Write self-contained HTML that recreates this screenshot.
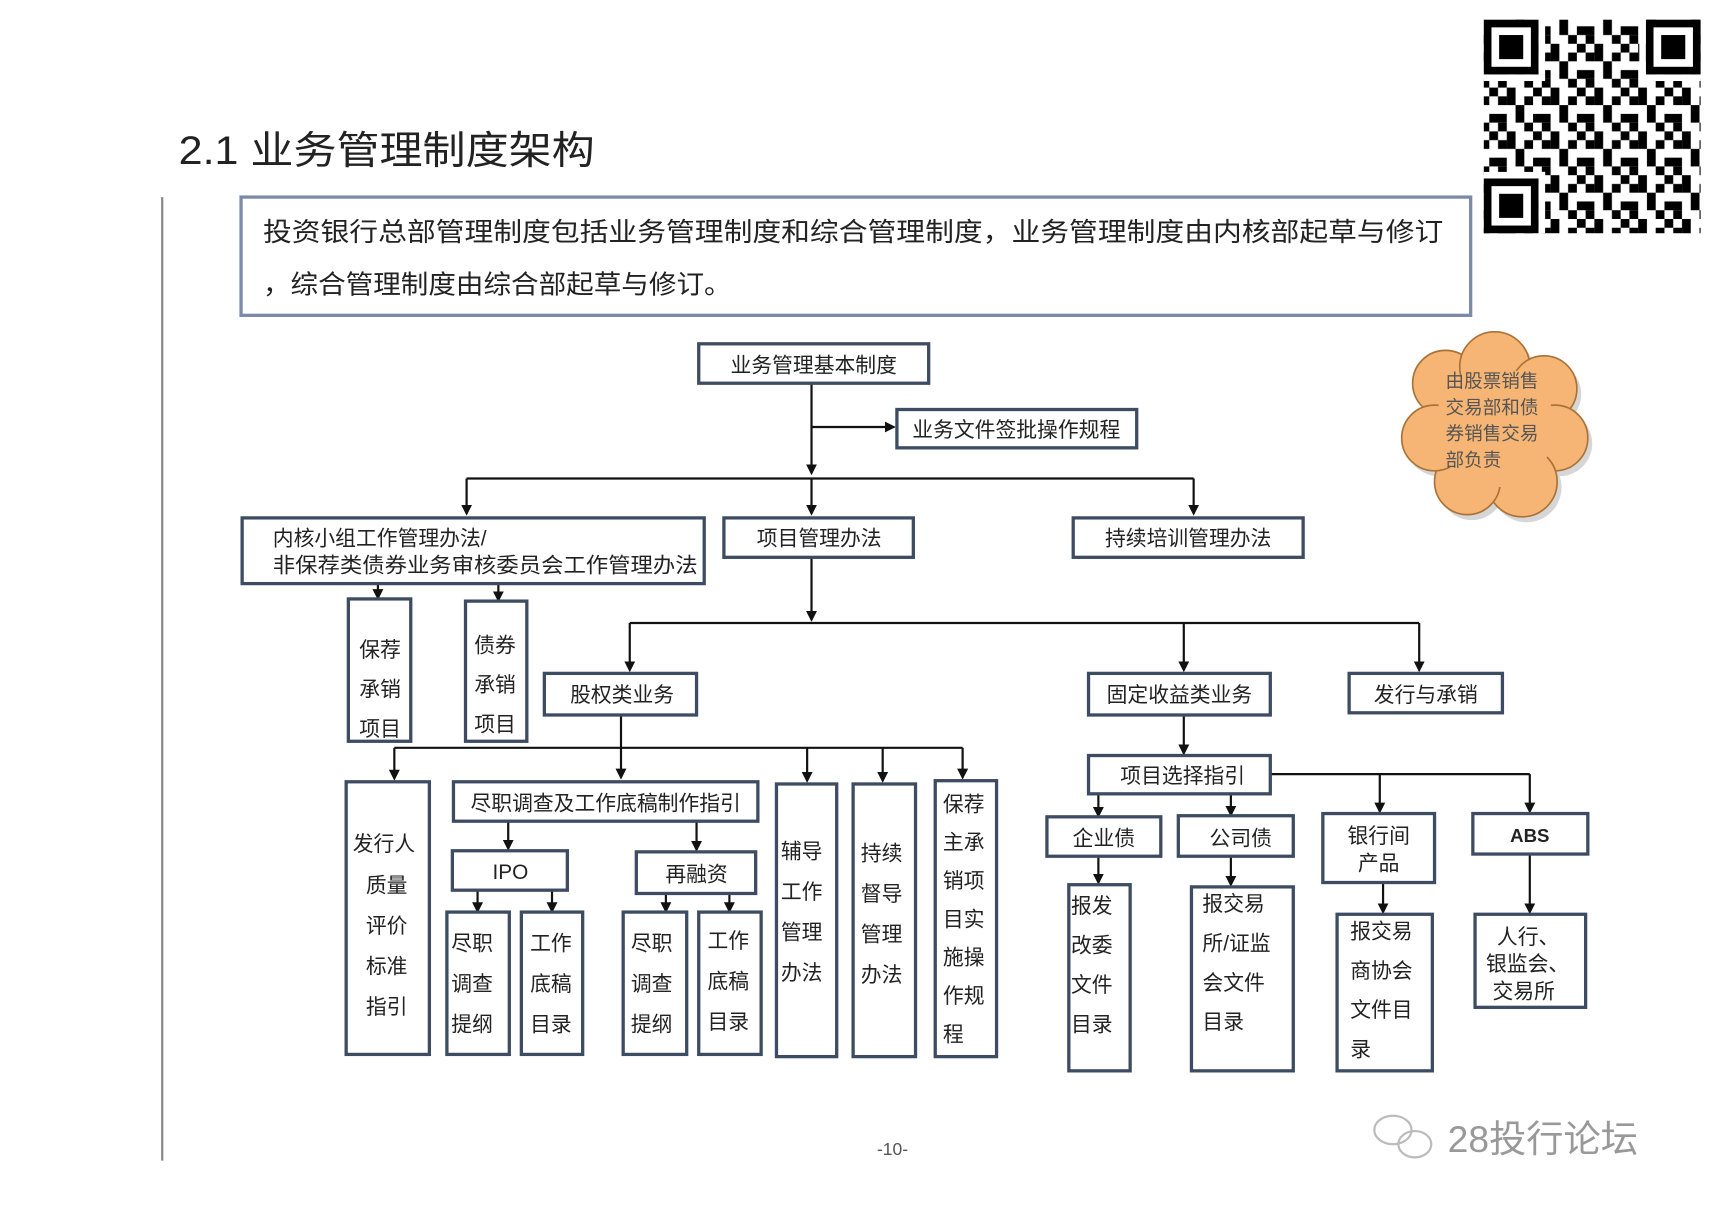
<!DOCTYPE html>
<html><head><meta charset="utf-8"><style>
html,body{margin:0;padding:0;background:#fff;}
svg{display:block;}
text{font-family:"Liberation Sans","Noto Sans CJK SC",sans-serif;fill:#222;}
.b{fill:#fff;stroke:#3d4c63;stroke-width:3;}
.l{stroke:#111;stroke-width:2;fill:none;}
.t{font-size:19px;}
</style></head><body>
<svg width="1715" height="1211" viewBox="0 0 1566 1106" xmlns="http://www.w3.org/2000/svg">
<defs>
<marker id="a" markerWidth="10" markerHeight="10" refX="8" refY="5" orient="auto" markerUnits="userSpaceOnUse"><path d="M0,0 L10,5 L0,10 z" fill="#111"/></marker>
<pattern id="qr" width="40" height="40" patternUnits="userSpaceOnUse">
<rect width="40" height="40" fill="#fff"/>
<rect x="0" y="0" width="8" height="8" fill="#000"/><rect x="16" y="0" width="8" height="16" fill="#000"/>
<rect x="8" y="8" width="8" height="8" fill="#000"/><rect x="32" y="8" width="8" height="8" fill="#000"/>
<rect x="0" y="24" width="16" height="8" fill="#000"/><rect x="24" y="16" width="8" height="16" fill="#000"/>
<rect x="8" y="32" width="8" height="8" fill="#000"/><rect x="32" y="32" width="8" height="8" fill="#000"/>
</pattern>
</defs>

<text x="163" y="150" textLength="380" lengthAdjust="spacingAndGlyphs" style="font-size:36px;fill:#222">2.1 业务管理制度架构</text>
<line x1="148" y1="180" x2="148" y2="1060" stroke="#888" stroke-width="2"/>

<rect x="220" y="180" width="1123" height="108" fill="#fff" stroke="#7b8aa6" stroke-width="3"/>
<text x="240" y="220" textLength="1078" lengthAdjust="spacingAndGlyphs" style="font-size:24px">投资银行总部管理制度包括业务管理制度和综合管理制度，业务管理制度由内核部起草与修订</text>
<text x="240" y="268" textLength="428" lengthAdjust="spacingAndGlyphs" style="font-size:24px">，综合管理制度由综合部起草与修订。</text>

<!-- QR -->
<rect x="1355" y="18" width="198" height="195" fill="url(#qr)"/>
<g fill="#000">
<rect x="1355" y="18" width="50" height="50"/><rect x="1503" y="18" width="50" height="50"/><rect x="1355" y="163" width="50" height="50"/>
</g>
<g fill="#fff"><rect x="1362" y="25" width="36" height="36"/><rect x="1510" y="25" width="36" height="36"/><rect x="1362" y="170" width="36" height="36"/></g>
<g fill="#000"><rect x="1369" y="32" width="22" height="22"/><rect x="1517" y="32" width="22" height="22"/><rect x="1369" y="177" width="22" height="22"/></g>
<rect x="1405" y="18" width="6" height="50" fill="#fff"/><rect x="1497" y="18" width="6" height="50" fill="#fff"/><rect x="1355" y="68" width="56" height="6" fill="#fff"/><rect x="1497" y="68" width="56" height="6" fill="#fff"/><rect x="1355" y="157" width="56" height="6" fill="#fff"/><rect x="1405" y="157" width="6" height="56" fill="#fff"/>

<!-- cloud -->
<g transform="translate(4,5)" fill="#bbb" opacity="0.6">
<circle cx="1320" cy="350" r="30"/><circle cx="1365" cy="335" r="32"/><circle cx="1410" cy="355" r="30"/><circle cx="1420" cy="400" r="30"/><circle cx="1390" cy="440" r="32"/><circle cx="1340" cy="440" r="30"/><circle cx="1310" cy="400" r="30"/><circle cx="1365" cy="390" r="50"/>
</g>
<g fill="#f6b574" stroke="#a87238" stroke-width="1.5">
<circle cx="1320" cy="350" r="30"/><circle cx="1365" cy="335" r="32"/><circle cx="1410" cy="355" r="30"/><circle cx="1420" cy="400" r="30"/><circle cx="1390" cy="440" r="32"/><circle cx="1340" cy="440" r="30"/><circle cx="1310" cy="400" r="30"/>
</g>
<circle cx="1365" cy="390" r="55" fill="#f6b574"/>
<g style="font-size:17px"><text x="1320" y="354" style="fill:#555">由股票销售</text><text x="1320" y="378" style="fill:#555">交易部和债</text><text x="1320" y="402" style="fill:#555">券销售交易</text><text x="1320" y="426" style="fill:#555">部负责</text></g>

<!-- connectors -->
<line class="l" x1="741" y1="350" x2="741" y2="432" marker-end="url(#a)"/>
<line class="l" x1="741" y1="390" x2="816" y2="390" marker-end="url(#a)"/>
<line class="l" x1="426" y1="437" x2="1090" y2="437"/>
<line class="l" x1="426" y1="437" x2="426" y2="469" marker-end="url(#a)"/>
<line class="l" x1="741" y1="437" x2="741" y2="469" marker-end="url(#a)"/>
<line class="l" x1="1090" y1="437" x2="1090" y2="469" marker-end="url(#a)"/>
<line class="l" x1="345" y1="533" x2="345" y2="546" marker-end="url(#a)"/>
<line class="l" x1="455" y1="533" x2="455" y2="548" marker-end="url(#a)"/>
<line class="l" x1="741" y1="509" x2="741" y2="566" marker-end="url(#a)"/>
<line class="l" x1="575" y1="569" x2="1296" y2="569"/>
<line class="l" x1="575" y1="569" x2="575" y2="612" marker-end="url(#a)"/>
<line class="l" x1="1081" y1="569" x2="1081" y2="612" marker-end="url(#a)"/>
<line class="l" x1="1296" y1="569" x2="1296" y2="612" marker-end="url(#a)"/>
<line class="l" x1="567" y1="653" x2="567" y2="710" marker-end="url(#a)"/>
<line class="l" x1="360" y1="683" x2="879" y2="683"/>
<line class="l" x1="360" y1="683" x2="360" y2="711" marker-end="url(#a)"/>
<line class="l" x1="737" y1="683" x2="737" y2="713" marker-end="url(#a)"/>
<line class="l" x1="806" y1="683" x2="806" y2="713" marker-end="url(#a)"/>
<line class="l" x1="879" y1="683" x2="879" y2="710" marker-end="url(#a)"/>
<line class="l" x1="464" y1="750" x2="464" y2="775" marker-end="url(#a)"/>
<line class="l" x1="636" y1="750" x2="636" y2="776" marker-end="url(#a)"/>
<line class="l" x1="436" y1="813" x2="436" y2="832" marker-end="url(#a)"/>
<line class="l" x1="504" y1="813" x2="504" y2="832" marker-end="url(#a)"/>
<line class="l" x1="608" y1="816" x2="608" y2="832" marker-end="url(#a)"/>
<line class="l" x1="666" y1="816" x2="666" y2="832" marker-end="url(#a)"/>
<line class="l" x1="1081" y1="653" x2="1081" y2="688" marker-end="url(#a)"/>
<line class="l" x1="1160" y1="707" x2="1397" y2="707"/>
<line class="l" x1="1260" y1="707" x2="1260" y2="741" marker-end="url(#a)"/>
<line class="l" x1="1397" y1="707" x2="1397" y2="741" marker-end="url(#a)"/>
<line class="l" x1="1003" y1="725" x2="1003" y2="745" marker-end="url(#a)"/>
<line class="l" x1="1124" y1="725" x2="1124" y2="744" marker-end="url(#a)"/>
<line class="l" x1="1003" y1="782" x2="1003" y2="806" marker-end="url(#a)"/>
<line class="l" x1="1124" y1="782" x2="1124" y2="808" marker-end="url(#a)"/>
<line class="l" x1="1263" y1="806" x2="1263" y2="833" marker-end="url(#a)"/>
<line class="l" x1="1397" y1="780" x2="1397" y2="833" marker-end="url(#a)"/>

<!-- boxes -->
<rect class="b" x="638" y="314" width="210" height="36"/><text class="t" x="743" y="340" text-anchor="middle">业务管理基本制度</text>
<rect class="b" x="819" y="374" width="219" height="35"/><text class="t" x="928" y="399" text-anchor="middle">业务文件签批操作规程</text>
<rect class="b" x="221" y="473" width="422" height="60"/><text class="t" x="249" y="498">内核小组工作管理办法/</text><text class="t" x="249" y="523" textLength="388" lengthAdjust="spacingAndGlyphs">非保荐类债券业务审核委员会工作管理办法</text>
<rect class="b" x="661" y="473" width="173" height="36"/><text class="t" x="748" y="498" text-anchor="middle">项目管理办法</text>
<rect class="b" x="980" y="473" width="210" height="36"/><text class="t" x="1085" y="498" text-anchor="middle">持续培训管理办法</text>

<rect class="b" x="318" y="547" width="57" height="130"/><text class="t" x="328" y="600">保荐</text><text class="t" x="328" y="636">承销</text><text class="t" x="328" y="672">项目</text>
<rect class="b" x="425" y="549" width="56" height="128"/><text class="t" x="433" y="596">债券</text><text class="t" x="433" y="632">承销</text><text class="t" x="433" y="668">项目</text>

<rect class="b" x="497" y="615" width="139" height="38"/><text class="t" x="568" y="641" text-anchor="middle">股权类业务</text>
<rect class="b" x="994" y="615" width="166" height="38"/><text class="t" x="1077" y="641" text-anchor="middle">固定收益类业务</text>
<rect class="b" x="1232" y="615" width="140" height="36"/><text class="t" x="1302" y="641" text-anchor="middle">发行与承销</text>

<rect class="b" x="316" y="714" width="76" height="249"/>
<text class="t" x="322" y="777">发行人</text><text class="t" x="334" y="815">质量</text><text class="t" x="334" y="852">评价</text><text class="t" x="334" y="889">标准</text><text class="t" x="334" y="926">指引</text>
<rect class="b" x="414" y="714" width="278" height="36"/><text class="t" x="553" y="740" text-anchor="middle">尽职调查及工作底稿制作指引</text>
<rect class="b" x="413" y="777" width="105" height="36"/><text class="t" x="466" y="803" text-anchor="middle">IPO</text>
<rect class="b" x="581" y="778" width="109" height="38"/><text class="t" x="636" y="805" text-anchor="middle">再融资</text>
<rect class="b" x="408" y="833" width="57" height="130"/><text class="t" x="412" y="868">尽职</text><text class="t" x="412" y="905">调查</text><text class="t" x="412" y="942">提纲</text>
<rect class="b" x="476" y="833" width="56" height="130"/><text class="t" x="484" y="868">工作</text><text class="t" x="484" y="905">底稿</text><text class="t" x="484" y="942">目录</text>
<rect class="b" x="569" y="833" width="58" height="130"/><text class="t" x="576" y="868">尽职</text><text class="t" x="576" y="905">调查</text><text class="t" x="576" y="942">提纲</text>
<rect class="b" x="638" y="833" width="57" height="130"/><text class="t" x="646" y="866">工作</text><text class="t" x="646" y="903">底稿</text><text class="t" x="646" y="940">目录</text>
<rect class="b" x="709" y="716" width="55" height="249"/><text class="t" x="713" y="784">辅导</text><text class="t" x="713" y="821">工作</text><text class="t" x="713" y="858">管理</text><text class="t" x="713" y="895">办法</text>
<rect class="b" x="779" y="716" width="57" height="249"/><text class="t" x="786" y="786">持续</text><text class="t" x="786" y="823">督导</text><text class="t" x="786" y="860">管理</text><text class="t" x="786" y="897">办法</text>
<rect class="b" x="854" y="713" width="56" height="252"/><text class="t" x="861" y="741">保荐</text><text class="t" x="861" y="776">主承</text><text class="t" x="861" y="811">销项</text><text class="t" x="861" y="846">目实</text><text class="t" x="861" y="881">施操</text><text class="t" x="861" y="916">作规</text><text class="t" x="861" y="951">程</text>

<rect class="b" x="994" y="690" width="166" height="35"/><text class="t" x="1080" y="715" text-anchor="middle">项目选择指引</text>
<rect class="b" x="956" y="746" width="104" height="36"/><text class="t" x="1008" y="772" text-anchor="middle">企业债</text>
<rect class="b" x="1076" y="745" width="105" height="37"/><text class="t" x="1133" y="772" text-anchor="middle">公司债</text>
<rect class="b" x="1208" y="743" width="102" height="63"/><text class="t" x="1259" y="770" text-anchor="middle">银行间</text><text class="t" x="1259" y="795" text-anchor="middle">产品</text>
<rect class="b" x="1345" y="743" width="105" height="37"/><text class="t" x="1397" y="769" text-anchor="middle" style="font-size:17px;font-weight:bold">ABS</text>
<rect class="b" x="976" y="808" width="56" height="170"/><text class="t" x="978" y="834">报发</text><text class="t" x="978" y="870">改委</text><text class="t" x="978" y="906">文件</text><text class="t" x="978" y="942">目录</text>
<rect class="b" x="1088" y="810" width="93" height="168"/><text class="t" x="1098" y="832">报交易</text><text class="t" x="1098" y="868">所/证监</text><text class="t" x="1098" y="904">会文件</text><text class="t" x="1098" y="940">目录</text>
<rect class="b" x="1221" y="835" width="87" height="143"/><text class="t" x="1233" y="857">报交易</text><text class="t" x="1233" y="893">商协会</text><text class="t" x="1233" y="929">文件目</text><text class="t" x="1233" y="965">录</text>
<rect class="b" x="1347" y="835" width="101" height="85"/><text class="t" x="1367" y="862">人行、</text><text class="t" x="1357" y="887">银监会、</text><text class="t" x="1363" y="912">交易所</text>

<text x="815" y="1055" text-anchor="middle" style="font-size:16px;fill:#555">-10-</text>
<g fill="none" stroke="#bbb" stroke-width="2"><ellipse cx="1272" cy="1032" rx="17" ry="13"/><ellipse cx="1292" cy="1045" rx="15" ry="12"/></g>
<text x="1322" y="1052" style="font-size:34px;fill:#999">28投行论坛</text>
</svg>
</body></html>
